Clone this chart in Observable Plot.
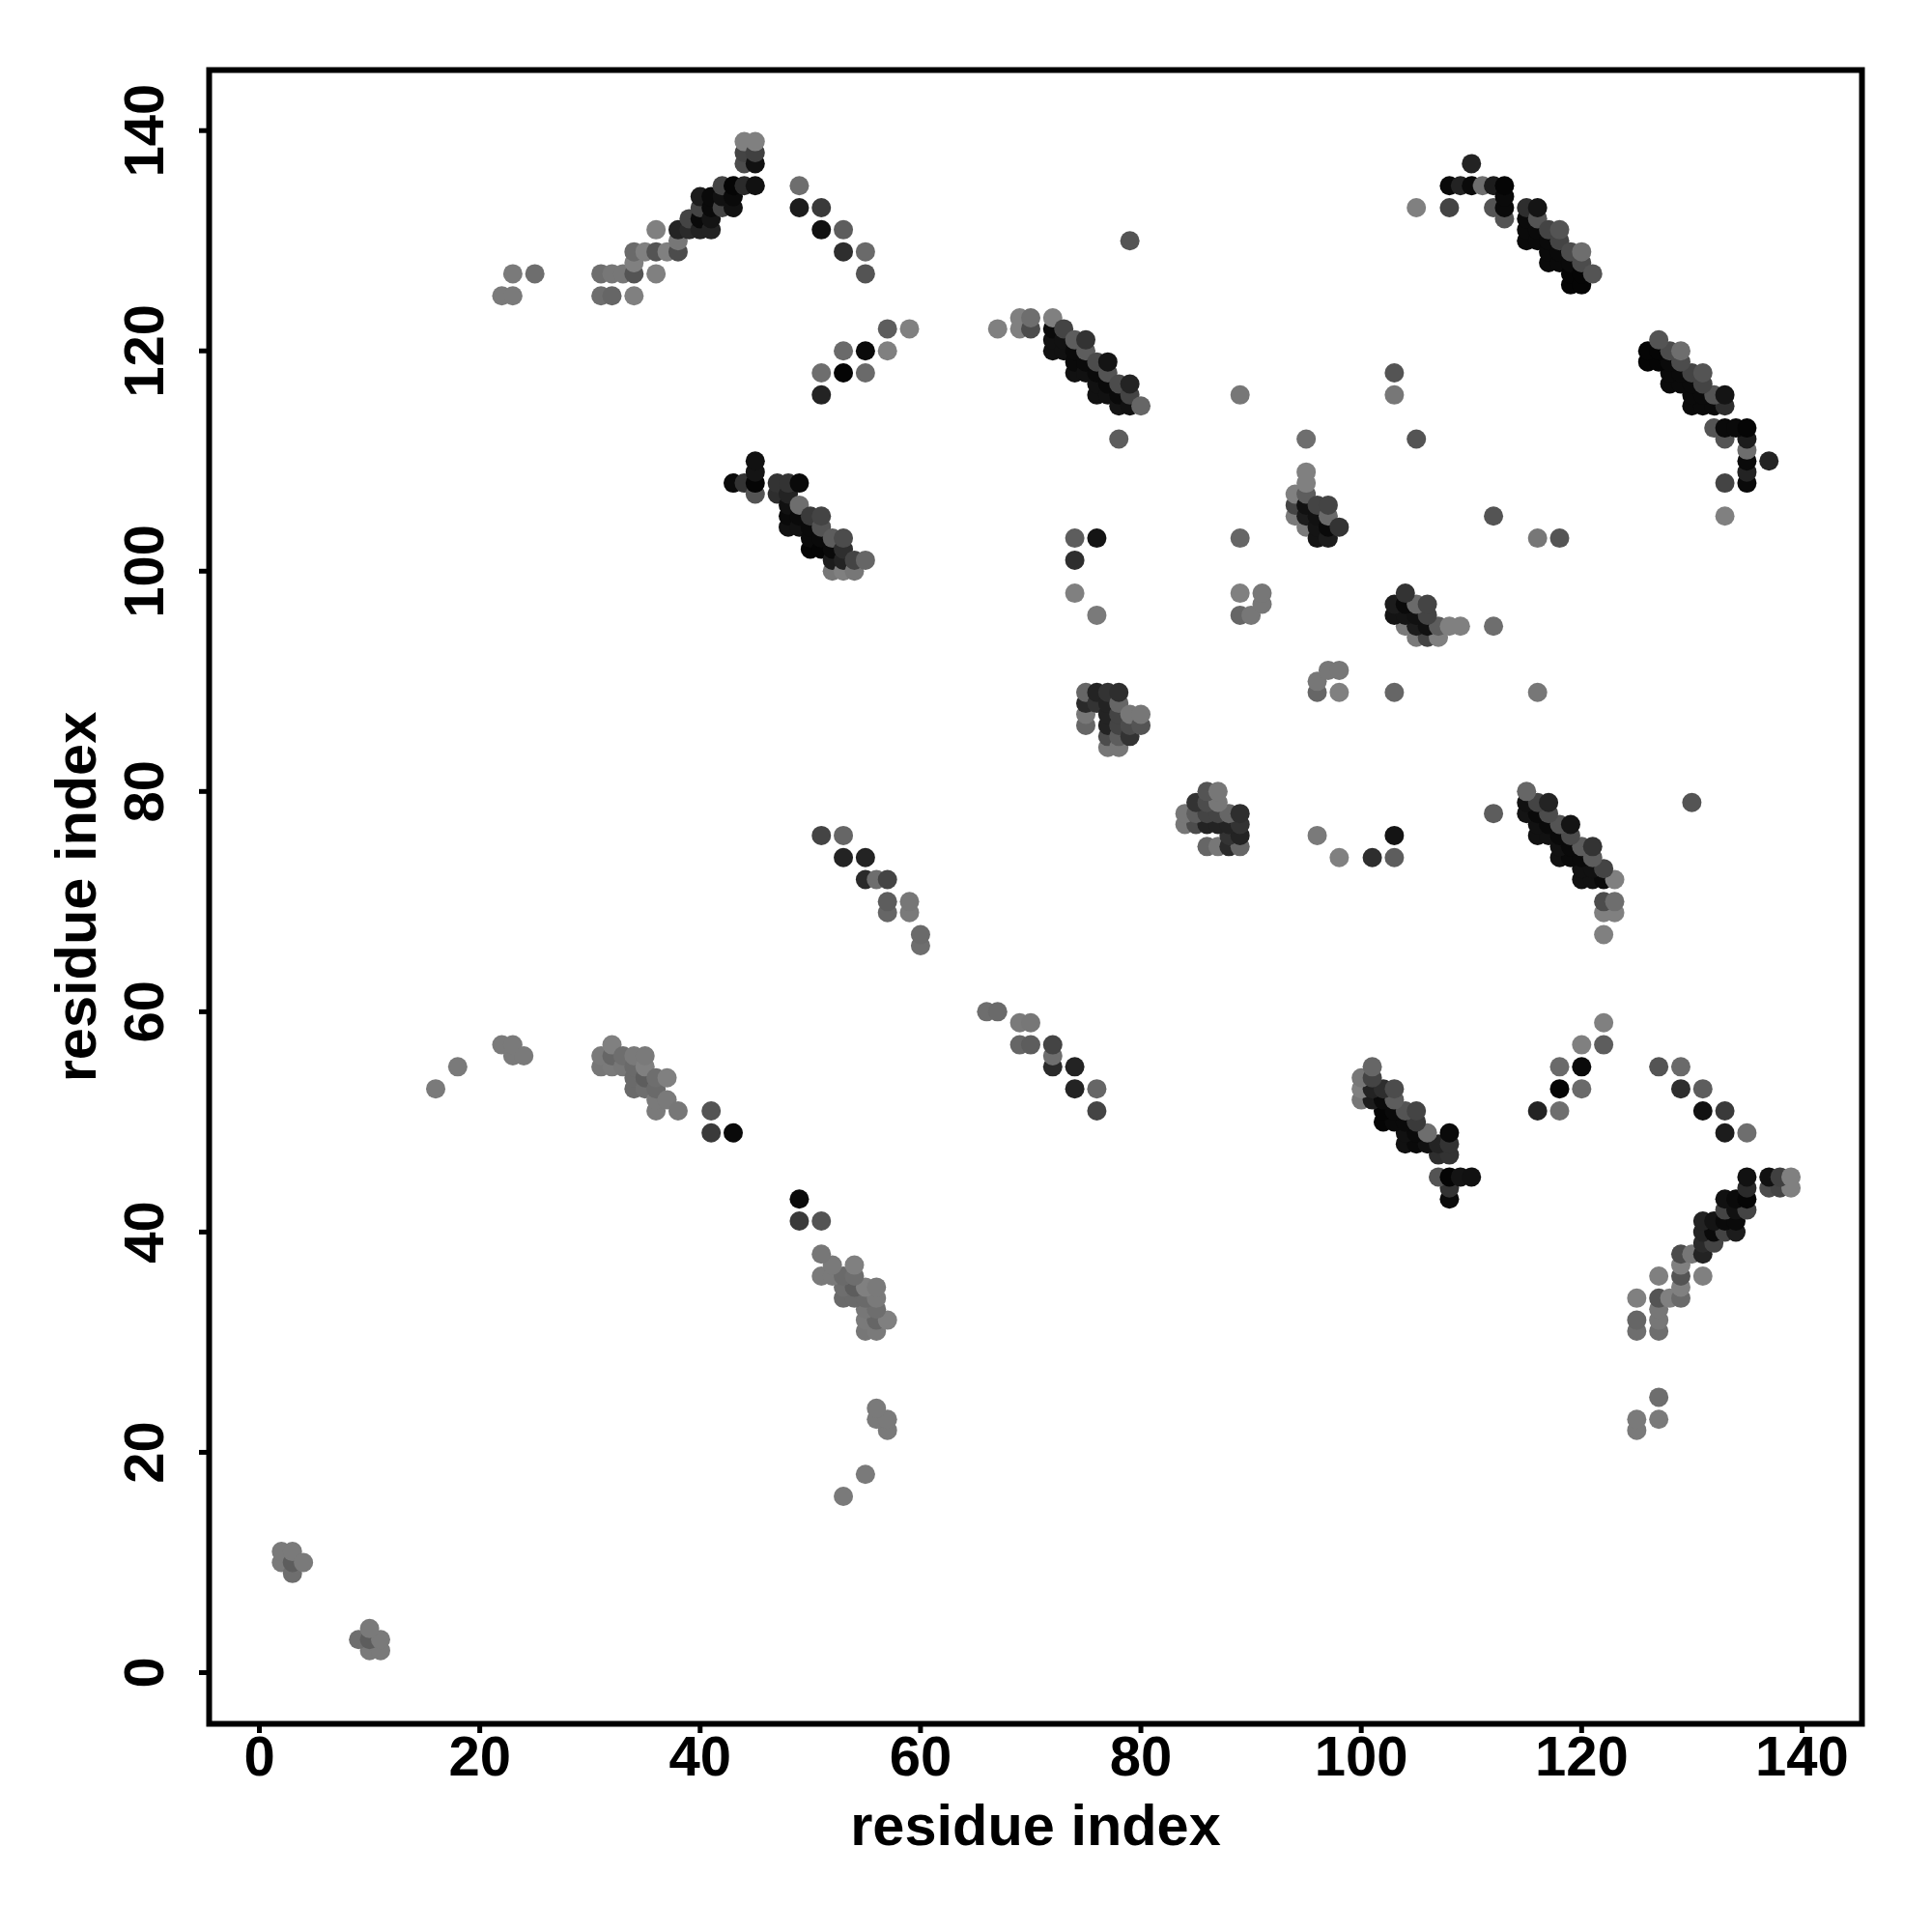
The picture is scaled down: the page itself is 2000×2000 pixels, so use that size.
<!DOCTYPE html>
<html>
<head>
<meta charset="utf-8">
<script src="https://cdn.jsdelivr.net/npm/d3@7"></script>
<script src="https://cdn.jsdelivr.net/npm/@observablehq/plot@0.6"></script>
<style>html,body{margin:0;padding:0;background:#fff}svg{display:block}</style>
</head>
<body>
<div id="chart"></div>
<script>
// contacts as [residue i, residue j, strength 0-100] with i < j; the map is symmetric
const nTerminal = [[2,10,5],[2,11,5],[3,9,14],[3,10,27],[3,11,5],[4,10,5]];
const sheetA = [[16,53,5],[18,55,5],[22,57,5],[23,56,5],[23,57,5],[24,56,5],
 [31,55,7],[31,56,5],[32,55,5],[32,56,20],[32,57,0],[33,55,7],[33,56,14],[34,53,17],[34,54,17],[34,55,17],[34,56,5],
 [35,53,14],[35,54,27],[35,55,0],[35,56,5],[36,51,5],[36,52,5],[36,53,17],[36,54,14],[37,52,5],[37,54,0],[38,51,7],
 [41,49,55],[41,51,34],[43,49,92]];
const sheetB = [[22,125,5],[23,125,5],[23,127,5],[25,127,14],[31,125,14],[31,127,14],[32,125,20],[32,127,7],[33,127,7],
 [34,125,0],[34,127,34],[34,128,0],[34,129,17],[35,129,0],[36,127,0],[36,129,34],[36,131,0],[37,129,0],[38,129,41],
 [38,130,7],[38,131,73],[39,131,67],[39,132,47],[40,131,73],[40,132,92],[40,133,47],[40,134,78],[41,131,73],[41,132,84],
 [41,133,92],[41,134,92],[42,133,47],[42,134,87],[42,135,47],[43,133,87],[43,134,92],[43,135,96],[44,135,67],[44,137,41],
 [44,138,47],[44,139,0],[45,135,87],[45,137,87],[45,138,50],[45,139,0]];
const sheetC = [[43,108,92],[44,108,60],[45,107,34],[45,108,96],[45,109,84],[45,110,87],[47,107,64],[47,108,60],
 [48,104,87],[48,105,92],[48,106,87],[48,107,73],[48,108,60],[49,104,87],[49,105,92],[49,106,14],[49,108,92],
 [50,102,96],[50,103,92],[50,104,92],[50,105,55],[51,102,96],[51,103,92],[51,104,34],[51,105,47],
 [52,100,7],[52,101,78],[52,102,92],[52,103,27],[53,100,0],[53,101,73],[53,102,64],[53,103,41],[54,100,7],[54,101,47],[55,101,20]];
const sheetD = [[51,116,73],[51,118,14],[53,118,96],[53,120,17],[55,118,17],[55,120,92],[57,120,0],[57,122,27],[59,122,0]];
const sheetE = [[51,76,47],[53,74,73],[53,76,20],[55,72,67],[55,74,73],[56,72,14],[57,69,20],[57,70,27],[57,72,47],
 [59,69,5],[59,70,7],[60,66,14],[60,67,17]];
const sheetF = [[49,133,78],[49,135,14],[51,131,87],[51,133,55],[53,129,64],[53,131,27],[55,127,34],[55,129,17]];
const sheetG = [[67,122,0],[69,122,0],[69,123,0],[70,122,41],[70,123,14],[72,120,87],[72,121,87],[72,122,92],[72,123,0],
 [73,120,87],[73,121,87],[73,122,47],[74,118,87],[74,119,92],[74,120,92],[74,121,27],[75,118,87],[75,119,92],[75,120,27],[75,121,60],
 [76,116,87],[76,117,87],[76,118,92],[76,119,41],[77,116,87],[77,117,92],[77,118,34],[77,119,84],[78,112,27],[78,115,84],[78,116,92],
 [78,117,41],[79,115,87],[79,116,47],[79,117,73],[79,130,34],[80,115,20]];
const sheetH = [[74,98,0],[74,101,64],[74,103,27],[76,96,5],[76,103,84]];
const sheetI = [[75,86,20],[75,87,7],[75,88,67],[75,89,20],[76,88,60],[76,89,73],[77,84,7],[77,85,41],[77,86,73],[77,87,73],
 [77,88,73],[77,89,60],[78,84,7],[78,85,27],[78,86,47],[78,87,47],[78,88,20],[78,89,64],[79,85,60],[79,86,41],[79,87,7],[80,86,34],[80,87,7]];
const sheetJ = [[89,96,20],[89,98,0],[90,96,7],[91,97,7],[91,98,7],[89,103,20],[89,116,7]];
const sheetK = [[94,105,5],[94,106,47],[94,107,0],[95,104,5],[95,105,78],[95,106,87],[95,107,27],[95,108,0],[95,109,0],[95,112,14],
 [96,103,84],[96,104,84],[96,105,87],[96,106,47],[97,103,78],[97,104,92],[97,105,17],[97,106,47],[98,104,60]];
const sheetL = [[103,116,7],[103,118,34],[105,112,34]];
const sheetM = [[105,133,0],[108,133,47],[108,135,92],[109,135,73],[110,135,92],[110,137,73],[111,135,14],[112,133,34],[112,135,78],
 [113,132,34],[113,133,92],[113,134,92],[113,135,96],[115,130,92],[115,131,92],[115,132,92],[115,133,64],[116,130,92],[116,131,92],
 [116,132,34],[116,133,84],[117,128,92],[117,129,92],[117,130,92],[117,131,47],[118,128,92],[118,129,92],[118,130,47],[118,131,34],
 [119,126,96],[119,127,96],[119,128,92],[119,129,41],[120,126,96],[120,127,96],[120,128,41],[120,129,14],[121,127,34]];
const tickValues = [0,20,40,60,80,100,120,140];
const axisLabel = "residue index";

const pairs = [nTerminal,sheetA,sheetB,sheetC,sheetD,sheetE,sheetF,sheetG,sheetH,sheetI,sheetJ,sheetK,sheetL,sheetM]
  .flat()
  .sort((a,b) => a[0]-b[0] || a[1]-b[1]);
const contacts = [
  ...pairs.map(([i,j,s]) => ({x:i,y:j,s})),
  ...pairs.map(([i,j,s]) => ({x:j,y:i,s}))
];

const font = "'Liberation Sans', Arial, Helvetica, sans-serif";
const chart = Plot.plot({
  width: 2000,
  height: 2000,
  marginLeft: 216,
  marginRight: 73,
  marginTop: 72,
  marginBottom: 216,
  style: {background: "#fff", fontFamily: font, fontWeight: "bold", color: "#000"},
  x: {domain: [-4.56, 145.44], label: null},
  y: {domain: [-4.65, 145.5], label: null},
  color: {type: "linear", domain: [0, 100], range: ["#808080", "#000000"], legend: false},
  marks: [
    Plot.dot(contacts, {x: "x", y: "y", r: 10, fill: "s", stroke: "none"}),
    Plot.frame({stroke: "#000", strokeWidth: 6}),
    Plot.axisX(tickValues, {anchor: "bottom", tickSize: 10, tickPadding: 2, strokeWidth: 5, fontSize: 58, fontWeight: "bold", fill: "#000", label: null}),
    Plot.axisY(tickValues, {anchor: "left", tickSize: 10, tickPadding: 38, tickRotate: -90, strokeWidth: 5, fontSize: 58, fontWeight: "bold", fill: "#000", textAnchor: "middle", label: null}),
    Plot.text([axisLabel], {frameAnchor: "bottom", lineAnchor: "middle", dy: 106, fontSize: 59.5, fontWeight: "bold", fill: "#000"}),
    Plot.text([axisLabel], {frameAnchor: "left", lineAnchor: "middle", textAnchor: "middle", rotate: -90, dx: -137, fontSize: 59.5, fontWeight: "bold", fill: "#000"})
  ]
});
document.getElementById("chart").appendChild(chart);
</script>
</body>
</html>
